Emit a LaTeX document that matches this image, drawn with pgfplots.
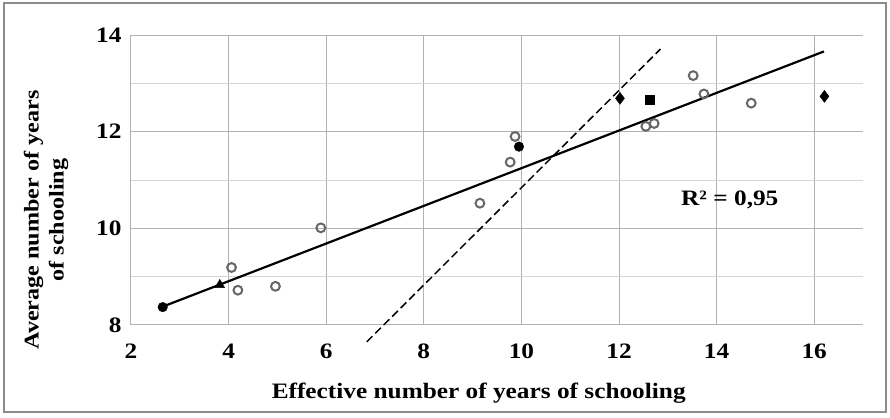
\documentclass[border=0pt]{standalone}
\usepackage{pgfplots}
\pgfplotsset{compat=1.18}
\usepackage{fontspec}
\setmainfont{Liberation Serif}[FakeStretch=1.15]

\newcommand{\lab}{\bfseries\fontsize{22}{26}\selectfont}

\begin{document}
\begin{tikzpicture}[x=1pt,y=1pt]
\begin{axis}[
    name=ax,
    scale only axis,
    width=732pt, height=290pt,
    xmin=2, xmax=17,
    ymin=8, ymax=14,
    xtick={2,4,...,16},
    ytick={8,10,12,14},
    minor ytick={9,11,13},
    grid=both,
    major grid style={draw=black!30, line width=1pt},
    minor grid style={draw=black!17, line width=1pt},
    axis line style={draw=none},
    major tick length=0pt, minor tick length=0pt,
    /pgf/number format/assume math mode=true,
    ticklabel style={font=\lab},
    xticklabel style={yshift=-15pt},
    yticklabel style={xshift=-6pt},
    xlabel={Effective number of years of schooling},
    xlabel style={font=\lab, at={(axis description cs:0.475,-0.234)}, anchor=center},
    ylabel={Average number of years\\of schooling},
    ylabel style={font=\bfseries\fontsize{21}{25}\selectfont, align=center,
                  at={(axis description cs:-0.116,0.362)}, anchor=center},
    clip=false,
]
% regression line
\addplot[black, line width=2.2pt] coordinates {(2.65,8.38) (16.2,13.66)};
% dashed line
\addplot[black, line width=1.5pt, dash pattern=on 8pt off 4pt] coordinates {(6.83,7.65) (12.85,13.71)};
% open markers
\addplot[only marks, mark=o, mark size=4.4pt, mark options={draw=black!60, fill=black!8, line width=2pt}]
coordinates {
(4.06,9.19) (4.19,8.72) (4.96,8.80) (5.89,10.01)
(9.15,10.52) (9.77,11.37) (9.87,11.90)
(12.55,12.11) (12.72,12.17) (13.52,13.16) (13.74,12.78) (14.71,12.59)
};
% filled markers
\addplot[only marks, mark=*, mark size=4.8pt, black] coordinates {(2.65,8.37) (9.95,11.69)};
\addplot[only marks, mark=triangle*, mark size=5.5pt, black] coordinates {(3.82,8.83)};
\addplot[only marks, mark=diamond*, mark size=6pt, black] coordinates {(12.02,12.69) (16.21,12.73)};
\addplot[only marks, mark=square*, mark size=4.4pt, black] coordinates {(12.63,12.66)};
\node[font=\lab] at (axis cs:14.27,10.59) {R² = 0,95};
\end{axis}
\draw[black!45, line width=1.5pt] ([shift={(-127pt,-87pt)}]ax.south west) rectangle ++(882pt,409pt);
\path ([shift={(-131pt,-92pt)}]ax.south west) rectangle ++(890pt,417pt);
\end{tikzpicture}
\end{document}
